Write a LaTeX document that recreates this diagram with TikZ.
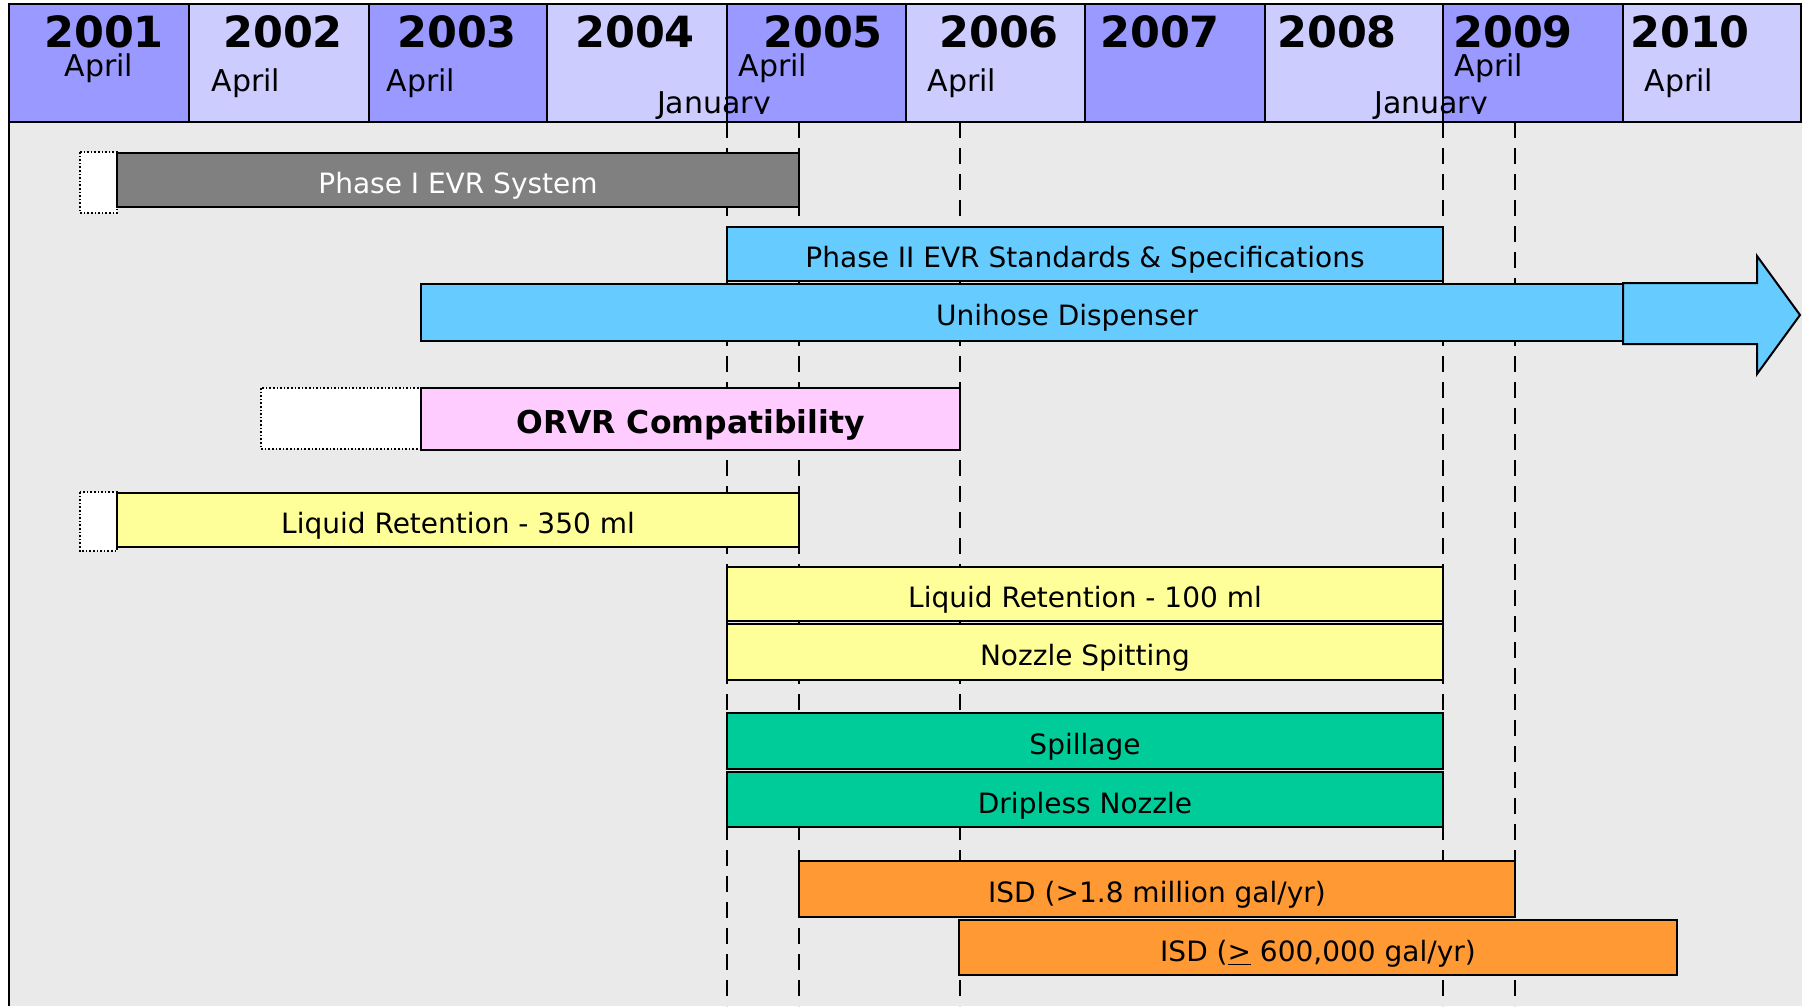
\documentclass[tikz,border=0pt]{standalone}
\usepackage{fontspec}
\setmainfont{DejaVu Sans}
\definecolor{hdrDark}{HTML}{9999FF}
\definecolor{hdrLight}{HTML}{CCCCFF}
\definecolor{bodyGrey}{HTML}{EAEAEA}
\definecolor{barGrey}{HTML}{808080}
\definecolor{barBlue}{HTML}{66CCFF}
\definecolor{barPink}{HTML}{FFCCFF}
\definecolor{barYellow}{HTML}{FFFF99}
\definecolor{barGreen}{HTML}{00CC99}
\definecolor{barOrange}{HTML}{FF9933}

\begin{document}
\begin{tikzpicture}[x=0.5pt,y=-0.5pt,
    font=\fontsize{14}{16}\selectfont,
    hdrcell/.style={draw=black,line width=1pt},
    phasebar/.style={draw=black,line width=1pt},
    bartext/.style={yshift=-3pt},
    stub/.style={draw=black,densely dotted,fill=white,line width=0.8pt},
    guideline/.style={line width=0.75pt,dash pattern=on 8pt off 5pt},
    yearlbl/.style={font=\bfseries\fontsize{21.5}{22}\selectfont,
                    anchor=base,inner sep=0pt},
    monthlbl/.style={font=\fontsize{15}{16}\selectfont,
                     anchor=base,inner sep=0pt}]
  \useasboundingbox (0,0) rectangle (1802,1006);
  \clip (0,0) rectangle (1802,1006);

  % body and header
  \fill[bodyGrey] (9,122) rectangle (1802,1006);
  \foreach \xa/\xb/\c in {9/189/hdrDark,189/369/hdrLight,369/547/hdrDark,
      547/727/hdrLight,727/906/hdrDark,906/1085/hdrLight,1085/1265/hdrDark,
      1265/1443/hdrLight,1443/1623/hdrDark,1623/1801/hdrLight}
    \draw[hdrcell,fill=\c] (\xa,4) rectangle (\xb,122);

  \foreach \yr/\xc in {2001/104,2002/283,2003/457,2004/635,2005/823,
      2006/999,2007/1160,2008/1337,2009/1513,2010/1690}
    \node[yearlbl] (y\yr) at (\xc,48) {\yr};

  \node[monthlbl] (a2001) at (99,76)   {April};
  \node[monthlbl] (a2002) at (246,91)  {April};
  \node[monthlbl] (a2003) at (421,91)  {April};
  \node[monthlbl] (a2005) at (773,76)  {April};
  \node[monthlbl] (a2006) at (962,91)  {April};
  \node[monthlbl] (a2009) at (1489,76) {April};
  \node[monthlbl] (a2010) at (1679,91) {April};
  \begin{scope}
    \clip (0,0) rectangle (1802,114) (648,100) rectangle (674,121)
      (1365,100) rectangle (1391,121);
    \node[monthlbl] (j2005) at (714,113)  {January};
    \node[monthlbl] (j2009) at (1431,113) {January};
  \end{scope}

  % milestone guides
  \foreach \xg in {727,799,960,1443,1515}
    \draw[guideline] (\xg,122) -- (\xg,1006);

  % phases
  \draw[stub] (80,152) rectangle (117,213);
  \draw[phasebar,fill=barGrey] (117,153) rectangle (799,207)
    node[midway,bartext,text=white] (ph1) {Phase I EVR System};
  \draw[phasebar,fill=barBlue] (727,227) rectangle (1443,281)
    node[midway,bartext] (ph2) {Phase II EVR Standards \& Specifications};
  \draw[phasebar,fill=barBlue] (421,284) rectangle (1642,341);
  \draw[phasebar,fill=barBlue] (1623,283) -- (1757,283) -- (1757,256)
    -- (1800,315) -- (1757,374) -- (1757,344) -- (1623,344) -- cycle;
  \node[bartext] (uni) at (1067,312) {Unihose Dispenser};
  \draw[stub] (261,388) rectangle (421,449);
  \draw[phasebar,fill=barPink] (421,388) rectangle (960,450)
    node[midway,bartext,font=\bfseries\fontsize{15.75}{18}\selectfont] (orvr)
    {ORVR Compatibility};
  \draw[stub] (80,492) rectangle (117,551);
  \draw[phasebar,fill=barYellow] (117,493) rectangle (799,547)
    node[midway,bartext] (lr350) {Liquid Retention - 350 ml};
  \draw[phasebar,fill=barYellow] (727,567) rectangle (1443,621)
    node[midway,bartext] (lr100) {Liquid Retention - 100 ml};
  \draw[phasebar,fill=barYellow] (727,624) rectangle (1443,680)
    node[midway,bartext] (spit) {Nozzle Spitting};
  \draw[phasebar,fill=barGreen] (727,713) rectangle (1443,769)
    node[midway,bartext] (spill) {Spillage};
  \draw[phasebar,fill=barGreen] (727,772) rectangle (1443,827)
    node[midway,bartext] (drip) {Dripless Nozzle};
  \draw[phasebar,fill=barOrange] (799,861) rectangle (1515,917)
    node[midway,bartext] (isd1) {ISD (>1.8 million gal/yr)};
  \draw[phasebar,fill=barOrange] (959,920) rectangle (1677,975)
    node[midway,bartext] (isd2) {ISD (\underline{>} 600,000 gal/yr)};

  \draw[line width=1pt] (9,122) -- (9,1006);
\end{tikzpicture}
\end{document}
